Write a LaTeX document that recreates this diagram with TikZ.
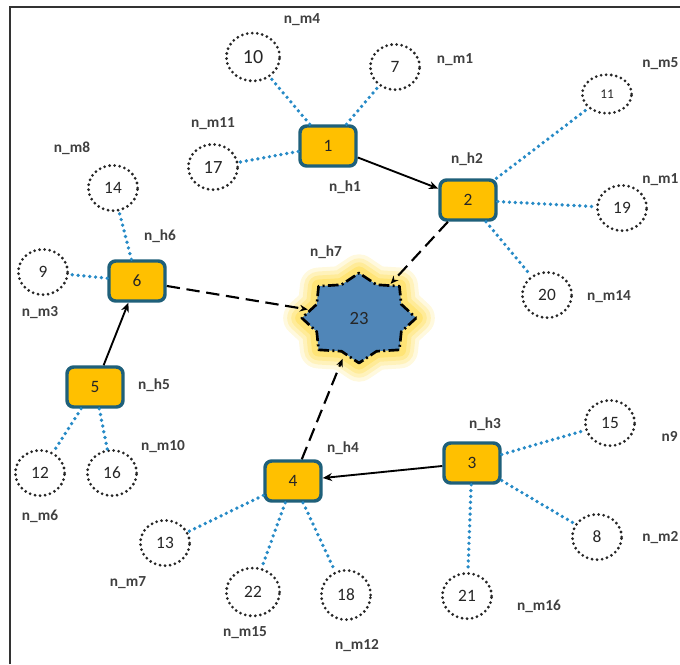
\documentclass[tikz,border=0pt]{standalone}
\usepackage{fontspec}
\setmainfont{Carlito}
\usetikzlibrary{shapes.geometric,arrows.meta}
\definecolor{hubfill}{RGB}{255,192,0}
\definecolor{hubedge}{RGB}{31,96,122}
\definecolor{linkblue}{RGB}{38,138,198}
\definecolor{starblue}{RGB}{80,134,184}
\definecolor{glow}{RGB}{255,215,50}
\tikzset{
  hub/.style={draw=hubedge, line width=2.6pt, fill=hubfill, rounded corners=5pt,
    minimum width=42pt, minimum height=30pt, inner sep=0pt,
    font=\fontsize{13}{15}\selectfont, text=black!85},
  member/.style={draw=black!85, ellipse, line width=2.3pt, dash pattern=on 0pt off 3.8pt,
    line cap=round, minimum width=37pt, minimum height=34pt, inner sep=0pt,
    font=\fontsize{13}{15}\selectfont, text=black!85},
  lbl/.style={font=\fontsize{11.5}{13}\selectfont\bfseries, text=black!75, inner sep=0pt},
  link/.style={draw=linkblue, line width=2.8pt, dash pattern=on 0pt off 4.4pt, line cap=round},
  hop/.style={draw=black, line width=1.4pt, -{Stealth[length=7pt,width=6pt]}},
  relay/.style={draw=black, line width=1.6pt, dash pattern=on 10pt off 5pt,
    -{Stealth[length=6pt,width=5pt]}},
}
\begin{document}
\begin{tikzpicture}[x=0.75pt,y=-0.75pt]
\useasboundingbox (0,0) rectangle (680,664);
% frame
\draw[line width=1.1pt, black!80] (10,664) -- (10,7) -- (680,7);

% central star with its halo
\begin{scope}[shift={(359,318)}, xscale=1.27]
  \foreach \w/\o in {28/0.16,22/0.2,16/0.26,10/0.34}{
    \draw[glow, line width=\w pt, line join=round, opacity=\o]
      (0:45) \foreach \a in {22.5,67.5,...,337.5} { -- (\a:36) -- ({\a+22.5}:45) } -- cycle;
  }
  \fill[starblue] (0:45) \foreach \a in {22.5,67.5,...,337.5} { -- (\a:36) -- ({\a+22.5}:45) } -- cycle;
  \draw[black, line width=2pt, line join=round,
        dash pattern=on 8pt off 2.5pt on 1.5pt off 2.5pt]
    (0:45) \foreach \a in {22.5,67.5,...,337.5} { -- (\a:36) -- ({\a+22.5}:45) } -- cycle;
\end{scope}
\node[ellipse, minimum width=78pt, minimum height=64pt, inner sep=0pt] (h23) at (359,318) {};
\node[font=\fontsize{14}{16}\selectfont, text=black!85] at (359,318) {23};

% cluster heads
\node[hub] (h1) at (328,146) {1};
\node[hub] (h2) at (468,200) {2};
\node[hub] (h3) at (472,463) {3};
\node[hub] (h4) at (293,481) {4};
\node[hub] (h5) at (95,387) {5};
\node[hub] (h6) at (137,281) {6};

% members
\node[member, minimum width=40pt, minimum height=36pt, font=\fontsize{15}{17}\selectfont] (m10) at (253,57) {10};
\node[member] (m7) at (395,67) {7};
\node[member, font=\fontsize{14}{16}\selectfont] (m17) at (213,167) {17};
\node[member, minimum height=29pt, font=\fontsize{10}{12}\selectfont] (m11) at (607,94) {11};
\node[member] (m19) at (622,208) {19};
\node[member] (m20) at (547,295) {20};
\node[member] (m14) at (113,188) {14};
\node[member] (m9) at (43,272) {9};
\node[member] (m12) at (40,473) {12};
\node[member] (m16) at (112,473) {16};
\node[member] (m15) at (610,423) {15};
\node[member] (m8) at (597,537) {8};
\node[member] (m21) at (467,596) {21};
\node[member] (m13) at (165,543) {13};
\node[member, minimum width=40pt, minimum height=36pt] (m22) at (253,592) {22};
\node[member, minimum height=37pt] (m18) at (346,595) {18};

% member links
\draw[link] (h1) -- (m10);
\draw[link] (h1) -- (m7);
\draw[link] (h1) -- (m17);
\draw[link] (h2) -- (m11);
\draw[link] (h2) -- (m19);
\draw[link] (h2) -- (m20);
\draw[link] (h6) -- (m14);
\draw[link] (h6) -- (m9);
\draw[link] (h5) -- (m12);
\draw[link] (h5) -- (m16);
\draw[link] (h4) -- (m13);
\draw[link] (h4) -- (m22);
\draw[link] (h4) -- (m18);
\draw[link] (h3) -- (m15);
\draw[link] (h3) -- (m8);
\draw[link] (h3) -- (m21);

% head-to-head hops
\draw[hop] (h1) -- (h2);
\draw[hop] (h3) -- (h4);
\draw[hop] (h5) -- (h6);

% relays to the sink
\draw[relay] (h6) -- (h23);
\draw[relay] (h2) -- (h23);
\draw[relay] (h4) -- (h23);

% labels
\node[lbl] at (302,20) {n\_m4};
\node[lbl] at (455,60) {n\_m1};
\node[lbl, anchor=west] at (642,64) {n\_m5};
\node[lbl] at (213,124) {n\_m11};
\node[lbl] at (345,187) {n\_h1};
\node[lbl] at (467,159) {n\_h2};
\node[lbl, anchor=west] at (642,180) {n\_m1};
\node[lbl] at (72,148) {n\_m8};
\node[lbl] at (160,236) {n\_h6};
\node[lbl] at (40,313) {n\_m3};
\node[lbl] at (326,252) {n\_h7};
\node[lbl] at (609,297) {n\_m14};
\node[lbl] at (154,385) {n\_h5};
\node[lbl] at (163,447) {n\_m10};
\node[lbl] at (40,516) {n\_m6};
\node[lbl] at (485,424) {n\_h3};
\node[lbl] at (343,448) {n\_h4};
\node[lbl, anchor=east] at (678,436) {n9};
\node[lbl, anchor=west] at (642,538) {n\_m2};
\node[lbl] at (128,583) {n\_m7};
\node[lbl] at (539,606) {n\_m16};
\node[lbl] at (245,633) {n\_m15};
\node[lbl] at (357,646) {n\_m12};
\end{tikzpicture}
\end{document}
